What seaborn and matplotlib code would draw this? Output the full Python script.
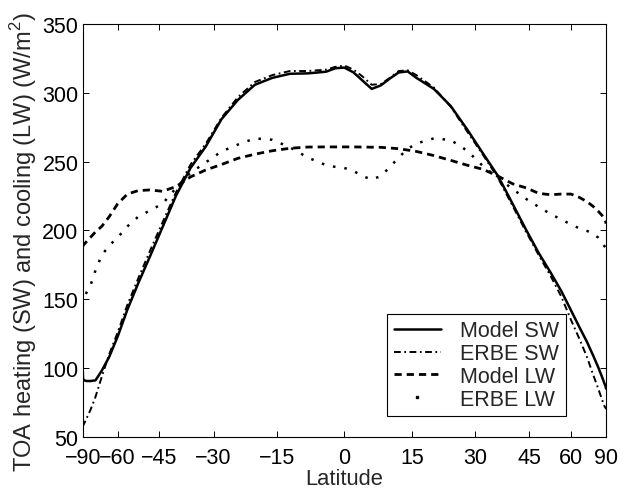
import numpy as np
import pandas as pd
import matplotlib
matplotlib.use("Agg")
import matplotlib.pyplot as plt
from matplotlib.lines import Line2D
import seaborn as sns

# ---------------- data ----------------
latitude = [-90, -87, -84, -80, -76, -72, -68, -64, -60, -56, -52, -48, -44, -40,
            -36, -32, -28, -24, -20, -16, -12, -8, -4, -2, 0, 2, 4, 6, 8, 10,
            12, 14, 16, 20, 24, 28, 32, 36, 40, 44, 48, 52, 56, 60, 64, 68, 72,
            76, 80, 84, 87, 90]

model_sw = [100, 92, 91, 90.5, 90.5, 91, 98, 108, 123, 142.5, 161.5, 181, 202.5, 225.5,
            245.5, 261, 281, 295, 306, 311, 314, 314.3, 315.5, 318, 318.5, 315, 309, 303, 305.5, 310.5,
            315, 315.7, 311, 303, 290.5, 273.5, 256, 239.5, 219.5, 200.5, 183.5, 169.5, 156, 142, 129.5, 119, 109,
            100.5, 93.5, 88.5, 86.5, 85]

erbe_sw = [57, 58, 59.5, 63.5, 69.5, 79, 93.5, 110, 126, 146, 165, 185, 206, 228,
           248, 263, 282, 297, 308, 313, 316, 316, 317, 319, 320, 317, 312, 306, 306.5, 311,
           316, 316.5, 313, 304, 290, 272, 255, 238, 218, 199, 182, 167, 152, 135, 121, 108, 95,
           85, 77, 72, 71, 70]

model_lw = [188, 189, 190, 192, 195, 199, 203, 210, 219.5, 226.5, 229, 229.5, 228.5, 232,
            239, 244, 248, 252.5, 255.5, 258, 259.8, 260.7, 260.8, 260.8, 260.8, 260.8, 260.7, 260.6, 260.5, 260,
            259.5, 258.5, 257.5, 254.5, 251, 247.5, 244.5, 239.5, 234, 231, 227, 226, 226.5, 226.5, 224, 221, 217.5,
            214, 211, 208.3, 206.5, 205]

erbe_lw = [146, 150, 152, 155, 160, 171, 182, 189, 195, 203, 210, 214.5, 219.5, 231,
           242, 249.5, 257.5, 262.5, 267, 266, 260.5, 253, 247.5, 246.3, 245.5, 243.3, 239.6, 237, 239.6, 246,
           253.2, 259.3, 263.3, 267, 265.8, 258, 246.8, 238.2, 230.2, 223, 217.1, 212, 208, 204.4, 201.5, 199.7, 197.7,
           194.8, 191.3, 188.5, 187.5, 187]

series_labels = ["Model SW", "ERBE SW", "Model LW", "ERBE LW"]
x_ticks = [-90, -60, -45, -30, -15, 0, 15, 30, 45, 60, 90]
x_tick_labels = ["\u221290", "\u221260", "\u221245", "\u221230", "\u221215", "0", "15", "30", "45", "60", "90"]
y_ticks = [50, 100, 150, 200, 250, 300, 350]
x_label = "Latitude"
y_label = "TOA heating (SW) and cooling (LW) (W/m$^2$)"

# ---------------- style ----------------
sns.set_style("ticks")
plt.rcParams["font.family"] = ["Liberation Sans", "DejaVu Sans"]
plt.rcParams["mathtext.fontset"] = "custom"
plt.rcParams["mathtext.rm"] = "Liberation Sans"
FS = 15.5

fig = plt.figure(figsize=(6.25, 4.89), dpi=100)
ax = fig.add_axes([0.1323, 0.1049, 0.8373, 0.8434])

# sine-of-latitude axis
def fwd(x):
    return np.sin(np.deg2rad(np.asarray(x, dtype=float)))

def inv(s):
    return np.rad2deg(np.arcsin(np.clip(np.asarray(s, dtype=float), -1, 1)))

ax.set_xscale("function", functions=(fwd, inv))

df = pd.DataFrame({"lat": latitude, "Model SW": model_sw, "ERBE SW": erbe_sw,
                   "Model LW": model_lw, "ERBE LW": erbe_lw})

styles = {
    "Model SW": dict(linestyle="-", linewidth=1.8),
    "ERBE SW": dict(linestyle=(0, (3.5, 1.8, 0.9, 1.8)), linewidth=1.4),
    "Model LW": dict(linestyle=(0, (2.6, 1.8)), linewidth=2.0),
    "ERBE LW": dict(linestyle=(0, (1, 3.6)), linewidth=1.8),
}
for name in series_labels:
    sns.lineplot(data=df, x="lat", y=name, ax=ax, color="black", sort=True,
                 label=name, legend=False, **styles[name])

ax.set_xlim(-90, 90)
ax.set_ylim(50, 350)
ax.set_xticks(x_ticks)
ax.set_xticklabels(x_tick_labels)
ax.set_yticks(y_ticks)
ax.minorticks_off()
ax.tick_params(direction="in", length=4, width=0.7, top=True, right=True,
               labelsize=FS, colors="black")
ax.tick_params(axis="x", pad=7.3)
ax.tick_params(axis="y", pad=3)
for sp in ax.spines.values():
    sp.set_visible(True)
    sp.set_linewidth(0.8)
    sp.set_color("black")

ax.set_xlabel(x_label, fontsize=15.8, labelpad=0)
ax.set_ylabel(y_label, fontsize=17)
ax.yaxis.set_label_coords(-0.083, 0.4745)

handles = [Line2D([], [], color="black", **styles[n]) for n in series_labels[:3]]
handles.append(Line2D([], [], color="black", linestyle="none", marker="s", markersize=1.6))
leg = ax.legend(handles, series_labels, loc="lower right", bbox_to_anchor=(0.9236, 0.05),
                borderaxespad=0, fontsize=FS, frameon=True, fancybox=False,
                framealpha=1, edgecolor="black", handlelength=2.2, handletextpad=0.9,
                labelspacing=0.08, borderpad=0.3)
leg.get_frame().set_linewidth(0.8)

fig.savefig("out.png", dpi=100)
